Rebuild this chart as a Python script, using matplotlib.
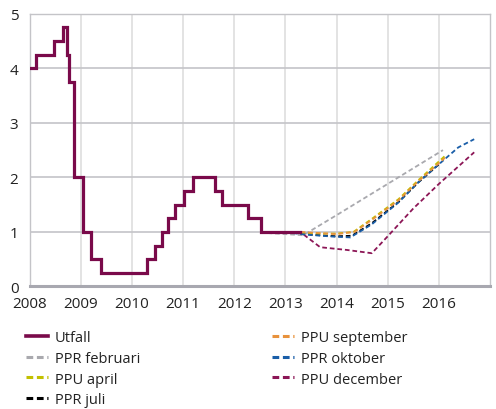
import matplotlib
matplotlib.use("Agg")
import matplotlib.pyplot as plt
from matplotlib.lines import Line2D

plt.rcParams["font.family"] = ["Open Sans", "DejaVu Sans"]

# Utfall (repo rate), step changes: start time and level
utfall_x = [2008.0, 2008.12, 2008.48, 2008.66, 2008.73, 2008.77, 2008.87, 2009.04,
            2009.21, 2009.40, 2010.30, 2010.45, 2010.59, 2010.71, 2010.85, 2011.01,
            2011.20, 2011.62, 2011.76, 2012.27, 2012.53, 2013.29]
utfall_y = [4.0, 4.25, 4.5, 4.75, 4.25, 3.75, 2.0, 1.0, 0.5, 0.25, 0.5, 0.75,
            1.0, 1.25, 1.5, 1.75, 2.0, 1.75, 1.5, 1.25, 1.0, 1.0]

# Forecast paths
feb_x = [2012.65, 2013.0, 2013.35, 2014.04, 2016.08]
feb_y = [0.98, 0.96, 0.94, 1.33, 2.50]

apr_x = [2013.0, 2013.5, 2014.0, 2014.33, 2014.69, 2015.21, 2015.6, 2016.15]
apr_y = [1.0, 0.97, 0.97, 1.0, 1.24, 1.60, 1.95, 2.42]

jul_x = [2013.0, 2013.5, 2014.0, 2014.3, 2014.69, 2015.21, 2015.6, 2016.0]
jul_y = [1.0, 0.95, 0.92, 0.93, 1.16, 1.55, 1.91, 2.24]

sep_x = [2013.3, 2014.0, 2014.35, 2014.69, 2015.21, 2015.6, 2016.12]
sep_y = [1.0, 0.96, 1.0, 1.22, 1.58, 1.93, 2.36]

okt_x = [2013.0, 2013.3, 2013.7, 2014.0, 2014.27, 2014.69, 2015.21, 2015.6, 2016.0, 2016.38, 2016.69]
okt_y = [1.0, 0.96, 0.93, 0.91, 0.90, 1.14, 1.54, 1.91, 2.24, 2.55, 2.70]

dec_x = [2013.36, 2013.68, 2014.2, 2014.69, 2015.0, 2015.5, 2016.0, 2016.69]
dec_y = [0.95, 0.72, 0.67, 0.61, 0.92, 1.43, 1.88, 2.46]

years = [2008, 2009, 2010, 2011, 2012, 2013, 2014, 2015, 2016]

c_utfall = "#7a0a4a"
c_feb = "#a9a9ae"
c_apr = "#c2c000"
c_jul = "#000000"
c_sep = "#e8923c"
c_okt = "#1a5ea8"
c_dec = "#8c1656"

fig = plt.figure(figsize=(4.96, 4.10), dpi=100)
ax = fig.add_axes([0.0595, 0.2988, 0.9285, 0.6653])

dash = (2.6, 1.6)
lw = 1.3
ax.plot(feb_x, feb_y, color=c_feb, lw=lw, dashes=dash, zorder=3)
ax.plot(jul_x, jul_y, color=c_jul, lw=lw, dashes=dash, zorder=3)
ax.plot(apr_x, apr_y, color=c_apr, lw=lw, dashes=dash, zorder=4)
ax.plot(sep_x, sep_y, color=c_sep, lw=lw, dashes=dash, zorder=5)
ax.plot(okt_x, okt_y, color=c_okt, lw=lw, dashes=dash, zorder=4)
ax.plot(dec_x, dec_y, color=c_dec, lw=lw, dashes=dash, zorder=3)
ax.plot(utfall_x, utfall_y, color=c_utfall, lw=2.3, drawstyle="steps-post",
        solid_joinstyle="miter", zorder=6)

ax.set_xlim(2008, 2017)
ax.set_ylim(0, 5)
ax.set_xticks(years)
ax.set_xticklabels([str(y) for y in years])
ax.set_yticks([0, 1, 2, 3, 4, 5])
ax.tick_params(length=0, labelsize=11, colors="#222222")
ax.tick_params(axis="y", pad=8)
ax.tick_params(axis="x", pad=7)

ax.grid(axis="y", color="#c4c4c8", lw=1.2)
ax.grid(axis="x", color="#dedede", lw=1.2)
ax.set_axisbelow(True)
for s in ["top", "left", "right"]:
    ax.spines[s].set_color("#c4c4c8")
    ax.spines[s].set_linewidth(1.0)
ax.spines["bottom"].set_color("#a8a8b0")
ax.spines["bottom"].set_linewidth(2.2)

ld = (2.2, 1.2)
h1 = [
    Line2D([], [], color=c_utfall, lw=2.6),
    Line2D([], [], color=c_feb, lw=2.2, dashes=ld),
    Line2D([], [], color=c_apr, lw=2.2, dashes=ld),
    Line2D([], [], color=c_jul, lw=2.2, dashes=ld),
]
l1 = ["Utfall", "PPR februari", "PPU april", "PPR juli"]
h2 = [
    Line2D([], [], color=c_sep, lw=2.2, dashes=ld),
    Line2D([], [], color=c_okt, lw=2.2, dashes=ld),
    Line2D([], [], color=c_dec, lw=2.2, dashes=ld),
]
l2 = ["PPU september", "PPR oktober", "PPU december"]

kw = dict(frameon=False, fontsize=10.5, handlelength=1.55, handletextpad=0.45,
          labelspacing=0.4, borderaxespad=0, borderpad=0, labelcolor="#222222")
fig.legend(h1, l1, loc="upper left", bbox_to_anchor=(0.052, 0.193), **kw)
fig.legend(h2, l2, loc="upper left", bbox_to_anchor=(0.548, 0.193), **kw)

fig.savefig("out.png", dpi=100)
